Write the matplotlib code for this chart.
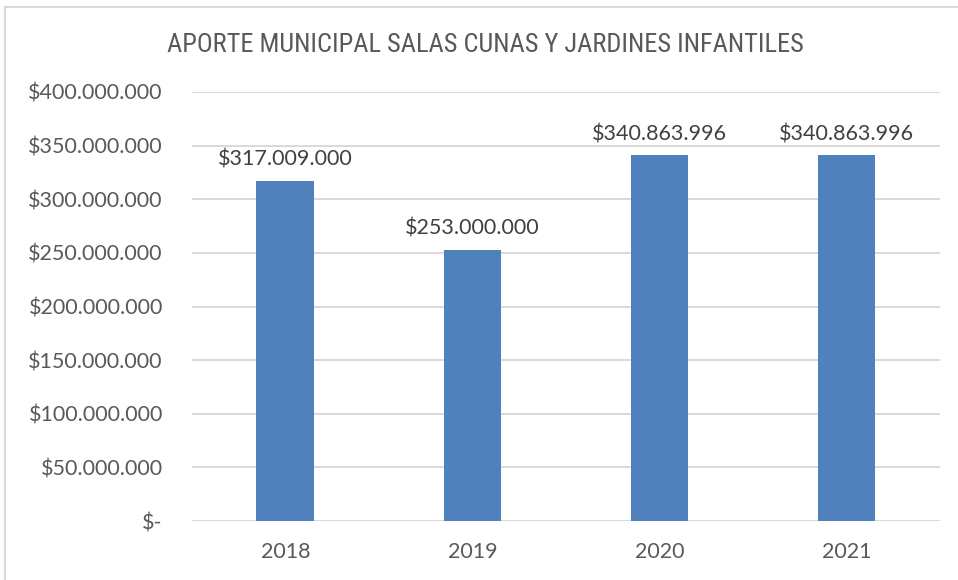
import matplotlib.pyplot as plt
from matplotlib.lines import Line2D
from matplotlib.ticker import FuncFormatter

years = ['2018', '2019', '2020', '2021']
aporte = [317009000, 253000000, 340863996, 340863996]
y_ticks = [0, 50e6, 100e6, 150e6, 200e6, 250e6, 300e6, 350e6, 400e6]

BAR_COLOR = '#4f81bd'
GRID_COLOR = '#d9d9d9'
TEXT_COLOR = '#595959'
LABEL_FONT = ['Lato', 'DejaVu Sans']
TITLE_FONT = ['Liberation Sans Narrow', 'Roboto Condensed', 'Roboto', 'DejaVu Sans']


def pesos(v):
    if v == 0:
        return '$-'
    return '$' + f'{int(round(v)):,}'.replace(',', '.')


fig = plt.figure(figsize=(9.58, 5.8), dpi=100)
ax = fig.add_axes([0.2004, 0.1017, 0.7808, 0.7397])

x = range(len(years))
ax.bar(x, aporte, width=0.31, color=BAR_COLOR, zorder=3)

for xi, v in zip(x, aporte):
    ax.annotate(pesos(v), (xi, v), xytext=(0, 8), textcoords='offset points',
                ha='center', va='bottom', fontsize=15.5, color='#404040',
                family=LABEL_FONT)

ax.set_xlim(-0.5, len(years) - 0.5)
ax.set_ylim(0, 400e6)
ax.set_yticks(y_ticks)
ax.yaxis.set_major_formatter(FuncFormatter(lambda v, p: pesos(v)))
ax.set_xticks(list(x))
ax.set_xticklabels(years)
ax.grid(axis='y', color=GRID_COLOR, linewidth=1.4, zorder=0)
ax.tick_params(length=0, labelsize=15.5, labelcolor=TEXT_COLOR)
ax.tick_params(axis='y', pad=21)
ax.tick_params(axis='x', pad=15)
for lbl in ax.get_xticklabels() + ax.get_yticklabels():
    lbl.set_family(LABEL_FONT)
for s in ax.spines.values():
    s.set_visible(False)

fig.text(0.5063, 0.922, 'APORTE MUNICIPAL SALAS CUNAS Y JARDINES INFANTILES',
         ha='center', va='center', fontsize=19, color=TEXT_COLOR,
         family=TITLE_FONT, fontstretch='condensed')

# chart frame, left and top edges
fig.add_artist(Line2D([0.0055, 0.0055], [0, 0.988], color=GRID_COLOR, linewidth=1.5))
fig.add_artist(Line2D([0.0055, 1.0], [0.988, 0.988], color=GRID_COLOR, linewidth=1.5))

fig.savefig('out.png', dpi=100)
